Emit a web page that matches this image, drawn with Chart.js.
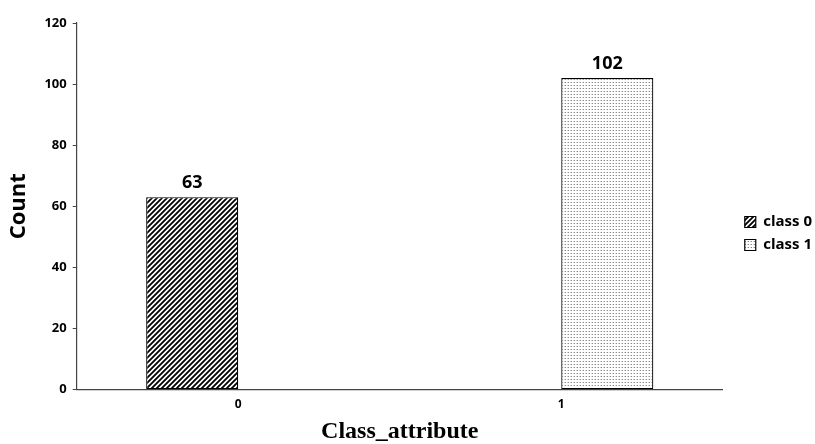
<!DOCTYPE html>
<html>
<head>
<meta charset="utf-8">
<script src="https://cdn.jsdelivr.net/npm/chart.js@4.4.1/dist/chart.umd.min.js"></script>
<style>
  html, body { margin: 0; padding: 0; background: #fff; }
  #wrap { width: 815px; height: 444px; }
</style>
</head>
<body>
<div id="wrap"><canvas id="c" width="815" height="444"></canvas></div>
<script>
// ── ข้อมูล ──
var categories = ["0", "1"];
var seriesNames = ["class 0", "class 1"];
var class0Counts = [63, 0];
var class1Counts = [0, 102];
var yTicks = [0, 20, 40, 60, 80, 100, 120];

// ── ลายเส้นทแยง / ลายจุด ──
function hatchPattern() {
  var t = document.createElement("canvas");
  t.width = 5; t.height = 5;
  var g = t.getContext("2d");
  g.fillStyle = "#fff"; g.fillRect(0, 0, 5, 5);
  g.strokeStyle = "#000"; g.lineWidth = 1.8;
  g.beginPath();
  g.moveTo(-1, 6); g.lineTo(6, -1);
  g.moveTo(-1, 1); g.lineTo(1, -1);
  g.moveTo(4, 6); g.lineTo(6, 4);
  g.stroke();
  return g.createPattern(t, "repeat");
}
function dotPattern() {
  var t = document.createElement("canvas");
  t.width = 3; t.height = 3;
  var g = t.getContext("2d");
  g.fillStyle = "#fff"; g.fillRect(0, 0, 3, 3);
  g.fillStyle = "#8a8a8a"; g.fillRect(1, 1, 1, 1);
  g.fillStyle = "#d0d0d0"; g.fillRect(0, 1, 1, 1);
  return g.createPattern(t, "repeat");
}

// ── ป้ายค่าเหนือแท่ง ──
var valueLabels = {
  id: "valueLabels",
  afterDatasetsDraw: function(chart) {
    var ctx = chart.ctx;
    ctx.save();
    ctx.font = "bold 18px 'Open Sans'";
    ctx.fillStyle = "#000";
    ctx.textAlign = "center";
    ctx.textBaseline = "bottom";
    chart.data.datasets.forEach(function(ds, i) {
      chart.getDatasetMeta(i).data.forEach(function(bar, j) {
        if (!ds.data[j]) return;
        ctx.fillText(String(ds.data[j]), bar.x, bar.y - 5);
      });
    });
    ctx.restore();
  }
};

// ── เลื่อน legend ไปทางขวาเล็กน้อย ──
var legendShift = {
  id: "legendShift",
  afterLayout: function(chart) {
    chart.legend.left += 14;
    chart.legend.right += 14;
  }
};

new Chart(document.getElementById("c"), {
  type: "bar",
  data: {
    labels: categories,
    datasets: [
      { label: seriesNames[0], data: class0Counts, backgroundColor: hatchPattern(), borderColor: "#000", borderWidth: 1.2, borderSkipped: false },
      { label: seriesNames[1], data: class1Counts, backgroundColor: dotPattern(), borderColor: "#000", borderWidth: 1.2, borderSkipped: false }
    ]
  },
  options: {
    responsive: false,
    animation: false,
    layout: { padding: { top: 23, left: 6, right: 7, bottom: 0 } },
    datasets: { bar: { barPercentage: 1, categoryPercentage: 0.57 } },
    plugins: {
      legend: {
        position: "right",
        labels: {
          boxWidth: 11, boxHeight: 11, padding: 8,
          color: "#000",
          font: { family: "'Open Sans'", size: 15, weight: "bold" }
        }
      },
      tooltip: { enabled: false }
    },
    scales: {
      x: {
        grid: { display: false },
        border: { display: true, color: "#444", width: 1.2 },
        ticks: { color: "#000", padding: 0, font: { family: "'Open Sans'", size: 12, weight: "bold" } },
        title: { display: true, text: "Class_attribute", color: "#000", padding: { top: 8, bottom: 0 },
                 font: { family: "'Liberation Serif'", size: 24, weight: "bold", lineHeight: 1 } }
      },
      y: {
        min: 0, max: 120,
        afterBuildTicks: function(axis) { axis.ticks = yTicks.map(function(v) { return { value: v }; }); },
        grid: { drawOnChartArea: false, drawTicks: true, tickLength: 4, color: "#444" },
        border: { display: true, color: "#444", width: 1.2 },
        ticks: { color: "#000", padding: 6, font: { family: "'Open Sans'", size: 13, weight: "bold" } },
        title: { display: true, text: "Count", color: "#000", padding: { top: 0, bottom: 6 },
                 font: { family: "'Open Sans'", size: 22, weight: "bold" } }
      }
    }
  },
  plugins: [valueLabels, legendShift]
});
</script>
</body>
</html>
